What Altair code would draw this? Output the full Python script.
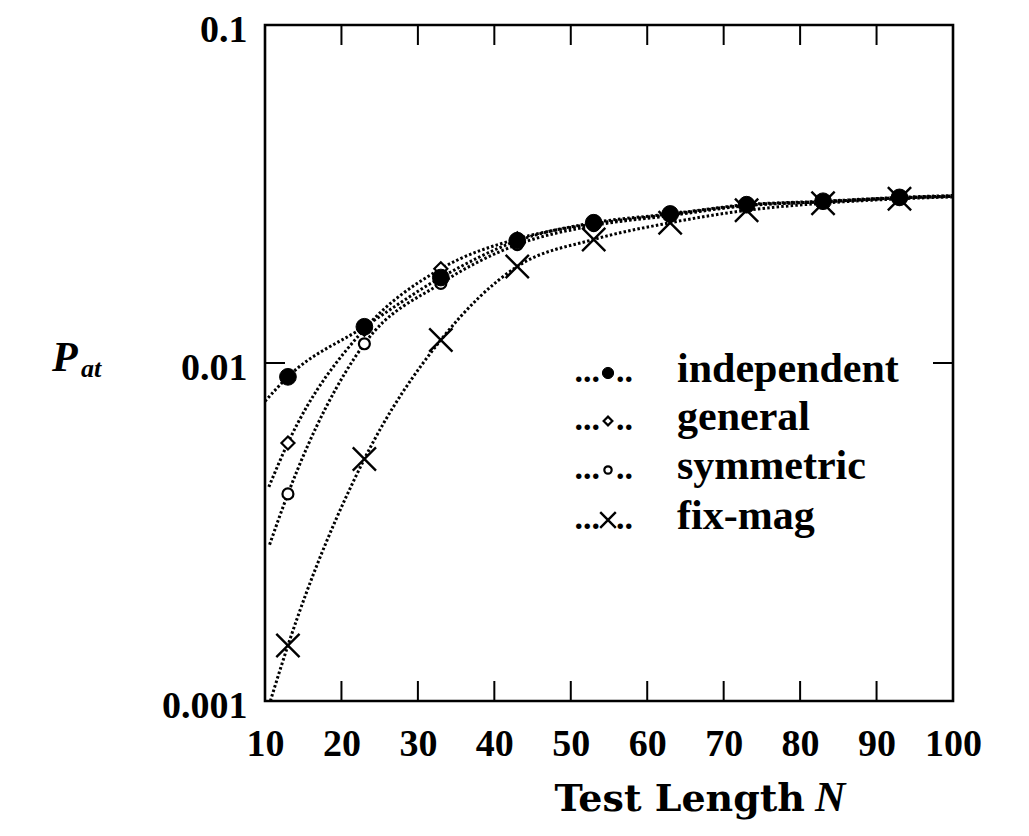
import altair as alt
import pandas as pd

# ---- data ----
N = [13, 23, 33, 43, 53, 63, 73, 83, 93]
independent = [0.0091, 0.0128, 0.0179, 0.0230, 0.0260, 0.0276, 0.0294, 0.0301, 0.0309]
general = [0.0058, 0.0126, 0.0190, 0.0233, 0.0258, 0.0275, 0.0293, 0.0300, 0.0308]
symmetric = [0.0041, 0.0114, 0.0172, 0.0224, 0.0255, 0.0273, 0.0292, 0.0300, 0.0308]
fixmag = [0.00146, 0.0052, 0.0117, 0.0193, 0.0232, 0.0260, 0.0283, 0.0297, 0.0306]

# where each dotted curve meets the frame
curve_start_N = [10.0, 10.5, 10.6, 10.7]
curve_start_P = [0.0077, 0.0043, 0.0029, 0.0010]
curve_end_N = [100, 100, 100, 100]
curve_end_P = [0.0313, 0.0312, 0.0311, 0.0310]

series_names = ["independent", "general", "symmetric", "fix-mag"]
series_values = [independent, general, symmetric, fixmag]
marker_draw_order = [2, 1, 3, 0]  # filled markers on top, as in the picture

x_ticks = [10, 20, 30, 40, 50, 60, 70, 80, 90, 100]
inner_x_ticks = [20, 30, 40, 50, 60, 70, 80, 90]
y_ticks = [0.001, 0.01, 0.1]

# ---- layout ----
W, H = 688, 676
FONT = "Liberation Serif"
TFONT = "DejaVu Serif"
X_PATH = "M-1,-1L1,1M-1,1L1,-1"

marker_style = {
    "independent": dict(shape="circle", size=280, fill="black", stroke="black", strokeWidth=1),
    "general": dict(shape="diamond", size=170, fill="white", stroke="black", strokeWidth=2.2),
    "symmetric": dict(shape="circle", size=120, fill="white", stroke="black", strokeWidth=2.2),
    "fix-mag": dict(shape=X_PATH, size=540, fill="white", stroke="black", strokeWidth=2.4),
}

xs = alt.Scale(domain=[10, 100], nice=False, zero=False)
ys = alt.Scale(type="log", domain=[0.001, 0.1], nice=False)

xax = alt.Axis(values=x_ticks, ticks=False, tickSize=0, domain=False, grid=False,
               labelFont=FONT, labelFontWeight="bold", labelFontSize=38,
               labelColor="black", labelPadding=24, title=None, labelFlush=False)
yax = alt.Axis(values=y_ticks, format=".3~f", ticks=False, tickSize=0, domain=False,
               grid=False, labelFont=FONT, labelFontWeight="bold", labelFontSize=38,
               labelColor="black", labelPadding=18, labelOffset=5, title=None)

layers = []

# axes carrier (invisible)
base_df = pd.DataFrame({"N": [10, 100], "P": [0.001, 0.1]})
layers.append(
    alt.Chart(base_df).mark_point(opacity=0).encode(
        x=alt.X("N:Q", scale=xs, axis=xax),
        y=alt.Y("P:Q", scale=ys, axis=yax),
    )
)

# curves
for i, name in enumerate(series_names):
    vals = series_values[i]
    line_df = pd.DataFrame({
        "N": [curve_start_N[i]] + N + [curve_end_N[i]],
        "P": [curve_start_P[i]] + vals + [curve_end_P[i]],
    })
    layers.append(
        alt.Chart(line_df).mark_line(
            color="black", strokeWidth=3, strokeDash=[2.5, 2.2],
            interpolate="monotone", clip=True
        ).encode(x=alt.X("N:Q", scale=xs), y=alt.Y("P:Q", scale=ys))
    )

# markers
for i in marker_draw_order:
    name = series_names[i]
    vals = series_values[i]
    pt_df = pd.DataFrame({"N": N, "P": vals})
    st = marker_style[name]
    layers.append(
        alt.Chart(pt_df).mark_point(
            filled=True, opacity=1, fillOpacity=1, **st
        ).encode(x=alt.X("N:Q", scale=xs), y=alt.Y("P:Q", scale=ys))
    )

# inward ticks
tick_df = pd.DataFrame({"N": inner_x_ticks})
layers.append(alt.Chart(tick_df).mark_rule(color="black", strokeWidth=2).encode(
    x=alt.X("N:Q", scale=xs), y=alt.value(H), y2=alt.value(H - 20)))
layers.append(alt.Chart(tick_df).mark_rule(color="black", strokeWidth=2).encode(
    x=alt.X("N:Q", scale=xs), y=alt.value(0), y2=alt.value(20)))
ytick_df = pd.DataFrame({"P": [0.01]})
layers.append(alt.Chart(ytick_df).mark_rule(color="black", strokeWidth=2).encode(
    y=alt.Y("P:Q", scale=ys), x=alt.value(0), x2=alt.value(20)))
layers.append(alt.Chart(ytick_df).mark_rule(color="black", strokeWidth=2).encode(
    y=alt.Y("P:Q", scale=ys), x=alt.value(W - 20), x2=alt.value(W)))

# legend (inside the plot)
leg_rows_y = [345, 393, 442, 492]
leg_marker_x = 343
leg_text_x = 412
one = pd.DataFrame({"k": [0]})
for i, name in enumerate(series_names):
    yy = leg_rows_y[i]
    st = dict(marker_style[name])
    st["size"] = st["size"] * 0.45
    layers.append(alt.Chart(one).mark_point(filled=True, opacity=1, **st).encode(
        x=alt.value(leg_marker_x), y=alt.value(yy + 3)))
    layers.append(alt.Chart(one).mark_text(
        text="...", font=FONT, fontWeight="bold", fontSize=34, align="right",
        baseline="alphabetic", color="black").encode(
        x=alt.value(leg_marker_x - 8), y=alt.value(yy + 12)))
    layers.append(alt.Chart(one).mark_text(
        text="..", font=FONT, fontWeight="bold", fontSize=34, align="left",
        baseline="alphabetic", color="black").encode(
        x=alt.value(leg_marker_x + 8), y=alt.value(yy + 12)))
    layers.append(alt.Chart(one).mark_text(
        text=name, font=FONT, fontWeight="bold", fontSize=42, align="left",
        baseline="alphabetic", color="black").encode(
        x=alt.value(leg_text_x), y=alt.value(yy + 12)))

# axis titles
layers.append(alt.Chart(one).mark_text(
    text="P", font=FONT, fontStyle="italic", fontWeight="bold", fontSize=42,
    align="left", baseline="alphabetic", color="black").encode(
    x=alt.value(-213), y=alt.value(346)))
layers.append(alt.Chart(one).mark_text(
    text="at", font=FONT, fontStyle="italic", fontWeight="bold", fontSize=26,
    align="left", baseline="alphabetic", color="black").encode(
    x=alt.value(-184), y=alt.value(352)))
layers.append(alt.Chart(one).mark_text(
    text="Test Length", font=TFONT, fontWeight="bold", fontSize=38,
    align="right", baseline="alphabetic", color="black").encode(
    x=alt.value(540), y=alt.value(786)))
layers.append(alt.Chart(one).mark_text(
    text="N", font=FONT, fontStyle="italic", fontWeight="bold", fontSize=42,
    align="left", baseline="alphabetic", color="black").encode(
    x=alt.value(550), y=alt.value(786)))

chart = alt.layer(*layers).properties(
    width=W, height=H,
    autosize=alt.AutoSizeParams(type="none"),
    padding={"left": 257, "top": 17, "right": 40, "bottom": 132},
    background="white",
).configure_view(stroke="black", strokeWidth=2.6)

chart.save("out.html", embed_options={"renderer": "svg", "actions": False})
